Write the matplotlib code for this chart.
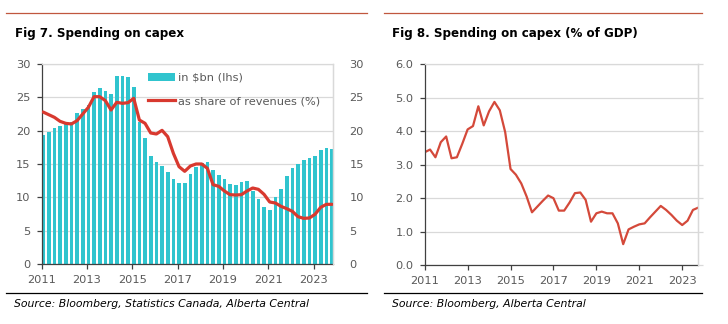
import matplotlib
matplotlib.use("Agg")
import matplotlib.pyplot as plt
from matplotlib.lines import Line2D
from matplotlib.patches import Patch
import pandas as pd

# ---------------- data ----------------
quarters = pd.period_range("2011Q1", "2023Q4", freq="Q")
qx = [p.year + (p.quarter - 1) / 4 for p in quarters]

capex_bn = [19.35, 19.75, 20.45, 20.7, 21.1, 21.3, 22.6, 23.2, 23.85, 25.8,
            26.35, 25.95, 25.45, 28.25, 28.2, 28.1, 26.6, 21.35, 18.95, 16.25,
            15.35, 14.7, 13.85, 12.75, 12.1, 12.1, 13.45, 14.5, 15.1, 15.3,
            14.1, 13.35, 12.7, 12.0, 11.85, 12.35, 12.45, 10.9, 9.8, 8.5,
            8.1, 10.05, 11.3, 13.2, 14.4, 14.95, 15.6, 15.85, 16.25, 17.1,
            17.4, 17.2]

share_rev = [22.8, 22.4, 22.0, 21.4, 21.1, 21.0, 21.5, 22.5, 23.5, 25.1,
             25.1, 24.5, 23.1, 24.25, 24.1, 24.2, 24.85, 21.6, 21.1, 19.65,
             19.5, 20.05, 19.1, 16.6, 14.6, 13.9, 14.7, 15.0, 15.0, 14.35,
             11.9, 11.65, 10.95, 10.4, 10.35, 10.4, 10.95, 11.4, 11.2, 10.45,
             9.3, 9.15, 8.65, 8.3, 7.9, 7.1, 6.85, 6.9, 7.45, 8.5,
             8.95, 8.95]

capex_gdp = [3.37, 3.45, 3.22, 3.67, 3.84, 3.19, 3.22, 3.62, 4.05, 4.15,
             4.74, 4.17, 4.59, 4.87, 4.62, 3.97, 2.87, 2.70, 2.44, 2.05,
             1.58, 1.75, 1.92, 2.08, 2.00, 1.63, 1.63, 1.87, 2.15, 2.17,
             1.95, 1.30, 1.55, 1.60, 1.55, 1.55, 1.25, 0.63, 1.07, 1.15,
             1.22, 1.25, 1.43, 1.60, 1.77, 1.65, 1.50, 1.33, 1.20, 1.33,
             1.65, 1.72]

year_ticks = [2011, 2013, 2015, 2017, 2019, 2021, 2023]
left_yticks = [0, 5, 10, 15, 20, 25, 30]
right_yticks = [0.0, 1.0, 2.0, 3.0, 4.0, 5.0, 6.0]

title1 = "Fig 7. Spending on capex"
title2 = "Fig 8. Spending on capex (% of GDP)"
source1 = "Source: Bloomberg, Statistics Canada, Alberta Central"
source2 = "Source: Bloomberg, Alberta Central"
label_bars = "in $bn (lhs)"
label_line = "as share of revenues (%)"

# ---------------- style ----------------
W, H = 728, 324
BAR = "#30C4CE"
RED = "#D8392F"
RED2 = "#D4493A"
TXT = "#595959"
GRID = "#D9D9D9"
SPINE = "#404040"
FS = 8.2

plt.rcParams["font.family"] = ["DejaVu Sans"]

fig = plt.figure(figsize=(W / 100, H / 100), dpi=100)


def px_axes(x0, y0, x1, y1):
    return fig.add_axes([x0 / W, 1 - y1 / H, (x1 - x0) / W, (y1 - y0) / H])


def style_axes(ax):
    ax.set_axisbelow(True)
    ax.grid(axis="y", color=GRID, lw=0.9)
    ax.spines["top"].set_color(GRID)
    ax.spines["right"].set_color(GRID)
    ax.spines["left"].set_color(SPINE)
    ax.spines["bottom"].set_color(SPINE)
    for s in ax.spines.values():
        s.set_linewidth(0.9)
    ax.tick_params(axis="both", colors=SPINE, labelcolor=TXT, labelsize=FS,
                   length=3.5, width=0.9, direction="out")
    ax.tick_params(axis="x", pad=4.5)
    ax.tick_params(axis="y", pad=4.5)


# ---------------- left chart ----------------
ax1 = px_axes(41.7, 64, 332.7, 264)
bar_off = 0.06
ax1.bar([x + bar_off for x in qx], capex_bn, width=0.16, color=BAR,
        label=label_bars, zorder=2)
ax1.set_xlim(2011, 2023.84)
ax1.set_ylim(0, 30)
ax1.set_yticks(left_yticks)
ax1.set_xticks(year_ticks)
ax1.set_xticklabels([str(y) for y in year_ticks])
style_axes(ax1)

ax1r = ax1.twinx()
ax1r.plot([x + bar_off for x in qx], share_rev, color=RED, lw=2.3,
          solid_joinstyle="round", solid_capstyle="round", label=label_line,
          zorder=3)
ax1r.set_ylim(0, 30)
ax1r.set_yticks(left_yticks)
ax1r.tick_params(axis="y", length=0, labelcolor=TXT, labelsize=FS, pad=12)
for s in ["left", "bottom", "top"]:
    ax1r.spines[s].set_visible(False)
ax1r.spines["right"].set_color(GRID)
ax1r.spines["right"].set_linewidth(0.9)

handles = [Patch(facecolor=BAR, edgecolor="none"),
           Line2D([], [], color=RED, lw=2.3)]
leg = ax1r.legend(handles, [label_bars, label_line], loc="upper left",
                  bbox_to_anchor=(147.5 / W, 1 - 73 / H),
                  bbox_transform=fig.transFigure, frameon=False,
                  fontsize=FS, handlelength=2.4, handleheight=0.7,
                  handletextpad=0.25, labelspacing=1.15, borderpad=0,
                  borderaxespad=0)
for t in leg.get_texts():
    t.set_color(TXT)

# ---------------- right chart ----------------
ax2 = px_axes(424.7, 64, 698.3, 265.3)
ax2.plot(qx, capex_gdp, color=RED2, lw=1.6, solid_joinstyle="round")
ax2.set_xlim(2011, 2023.75)
ax2.set_ylim(0, 6)
ax2.set_yticks(right_yticks)
ax2.set_yticklabels([f"{v:.1f}" for v in right_yticks])
ax2.set_xticks(year_ticks)
ax2.set_xticklabels([str(y) for y in year_ticks])
style_axes(ax2)

ax2r = ax2.twinx()
ax2r.set_ylim(0, 6)
ax2r.set_yticks(right_yticks)
ax2r.tick_params(axis="y", colors=GRID, labelright=False, length=3.5,
                 width=0.9, direction="out")
for s in ["left", "bottom", "top"]:
    ax2r.spines[s].set_visible(False)
ax2r.spines["right"].set_color(GRID)
ax2r.spines["right"].set_linewidth(0.9)

# ---------------- titles, rules, sources ----------------
fig.add_artist(Line2D([6 / W, 367 / W], [1 - 13.3 / H] * 2, color="#C0573E", lw=0.9))
fig.add_artist(Line2D([384 / W, 702 / W], [1 - 13.3 / H] * 2, color="#C0573E", lw=0.9))
fig.add_artist(Line2D([6 / W, 367 / W], [1 - 292.7 / H] * 2, color="black", lw=0.9))
fig.add_artist(Line2D([384 / W, 702 / W], [1 - 292.7 / H] * 2, color="black", lw=0.9))

fig.text(15 / W, 1 - 33 / H, title1, fontsize=8.6, fontweight="bold",
         color="black", va="center", ha="left")
fig.text(392 / W, 1 - 33 / H, title2, fontsize=8.6, fontweight="bold",
         color="black", va="center", ha="left")
fig.text(14 / W, 1 - 304 / H, source1, fontsize=7.8, style="italic",
         color="black", va="center", ha="left")
fig.text(392 / W, 1 - 304 / H, source2, fontsize=7.8, style="italic",
         color="black", va="center", ha="left")

fig.savefig("out.png", dpi=100, facecolor="white")
